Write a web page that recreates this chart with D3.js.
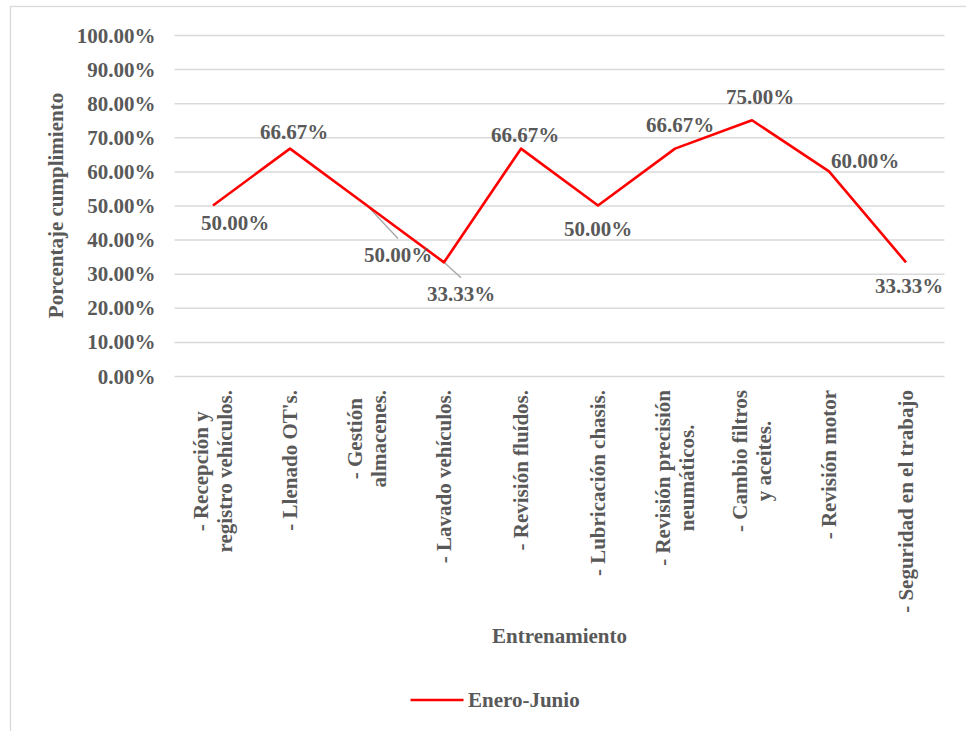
<!DOCTYPE html>
<html>
<head>
<meta charset="utf-8">
<script src="https://cdn.jsdelivr.net/npm/d3@7"></script>
<style>
  html, body { margin: 0; padding: 0; background: #fff; }
  svg { display: block; }
  text { font-family: "Liberation Serif", "Times New Roman", serif; font-weight: bold; fill: #595959; }
</style>
</head>
<body>
<svg id="chart" width="966" height="731"></svg>
<script>
// ---- data ----
const categories = [
  "- Recepción y\nregistro vehículos.",
  "- Llenado OT's.",
  "- Gestión\nalmacenes.",
  "- Lavado vehículos.",
  "- Revisión fluídos.",
  "- Lubricación chasis.",
  "- Revisión precisión\nneumáticos.",
  "- Cambio filtros\ny aceites.",
  "- Revisión motor",
  "- Seguridad en el trabajo"
];
const seriesName = "Enero-Junio";
const values = [0.50, 0.6667, 0.50, 0.3333, 0.6667, 0.50, 0.6667, 0.75, 0.60, 0.3333];
const yTicks = [0, 0.1, 0.2, 0.3, 0.4, 0.5, 0.6, 0.7, 0.8, 0.9, 1.0];
const yTitle = "Porcentaje cumplimiento";
const xTitle = "Entrenamiento";

// ---- layout (label placement relative to point, leader lines) ----
const labelOffsets = [[22,17],[4,-16.5],[31,49],[17,31.5],[4,-14],[0,23.5],[5,-23.5],[8,-23],[36,-10.7],[3,24]];
const leaderIdx = [2,3];

const svg = d3.select("#chart");
const W = 966, H = 731;
const plot = {left: 174.5, right: 944.5, top: 35, bottom: 376};
const FS = 21;

// border
svg.append("rect").attr("x", 10.5).attr("y", 6.5).attr("width", 1000).attr("height", 800)
  .attr("fill", "none").attr("stroke", "#D9D9D9").attr("stroke-width", 1.3);

const x = d3.scaleBand().domain(d3.range(categories.length)).range([plot.left, plot.right]);
const cx = i => x(i) + x.bandwidth() / 2;
const y = d3.scaleLinear().domain([0, 1]).range([plot.bottom, plot.top]);

// gridlines + y axis labels
const yAxis = d3.axisLeft(y).tickValues(yTicks).tickFormat(d3.format(".2%"))
  .tickSize(-(plot.right - plot.left)).tickPadding(19);
const gy = svg.append("g").attr("transform", `translate(${plot.left},0)`).call(yAxis);
gy.select(".domain").remove();
gy.selectAll(".tick line").attr("stroke", "#D9D9D9").attr("stroke-width", 1.5);
gy.selectAll(".tick text").attr("font-size", FS).attr("dy", null).attr("dominant-baseline", null)
  .attr("y", 7).style("font-family", null).attr("font-family", null);
gy.attr("font-family", null).attr("font-size", null);

// x category labels (rotated)
const xl = svg.append("g");
categories.forEach((c, i) => {
  const lines = c.split("\n");
  const g = xl.append("g");
  const t = g.append("text").attr("font-size", FS).attr("text-anchor", "middle");
  lines.forEach((ln, k) => {
    t.append("tspan").attr("x", 0).attr("y", (k - (lines.length - 1) / 2) * 24 + 7).text(ln);
  });
  const w = t.node().getComputedTextLength ? d3.max(t.selectAll("tspan").nodes(), n => n.getComputedTextLength()) : 0;
  g.attr("transform", `translate(${cx(i)},${390 + w / 2}) rotate(-90)`);
});

// axis titles
svg.append("text").attr("font-size", FS).attr("text-anchor", "middle")
  .attr("transform", `translate(63,${(plot.top + plot.bottom) / 2}) rotate(-90)`).text(yTitle);
svg.append("text").attr("font-size", FS).attr("text-anchor", "middle")
  .attr("x", (plot.left + plot.right) / 2).attr("y", 643).text(xTitle);

// leader lines
leaderIdx.forEach(i => {
  const px = cx(i), py = y(values[i]);
  const lx = px + labelOffsets[i][0], ly = py + labelOffsets[i][1] - 7 - 9;
  svg.append("line").attr("x1", px).attr("y1", py).attr("x2", lx).attr("y2", ly)
    .attr("stroke", "#A6A6A6").attr("stroke-width", 1.3);
});

// line
const line = d3.line().x((d, i) => cx(i)).y(d => y(d));
svg.append("path").datum(values).attr("d", line).attr("fill", "none")
  .attr("stroke", "#FF0000").attr("stroke-width", 2.6).attr("stroke-linejoin", "round");

// data labels
const fmt = d3.format(".2%");
values.forEach((v, i) => {
  svg.append("text").attr("font-size", FS).attr("text-anchor", "middle")
    .attr("x", cx(i) + labelOffsets[i][0]).attr("y", y(v) + labelOffsets[i][1] + 7)
    .text(fmt(v));
});

// legend
svg.append("line").attr("x1", 410.5).attr("x2", 463.5).attr("y1", 700).attr("y2", 700)
  .attr("stroke", "#FF0000").attr("stroke-width", 2.6);
svg.append("text").attr("font-size", FS).attr("x", 468).attr("y", 707).text(seriesName);
</script>
</body>
</html>
